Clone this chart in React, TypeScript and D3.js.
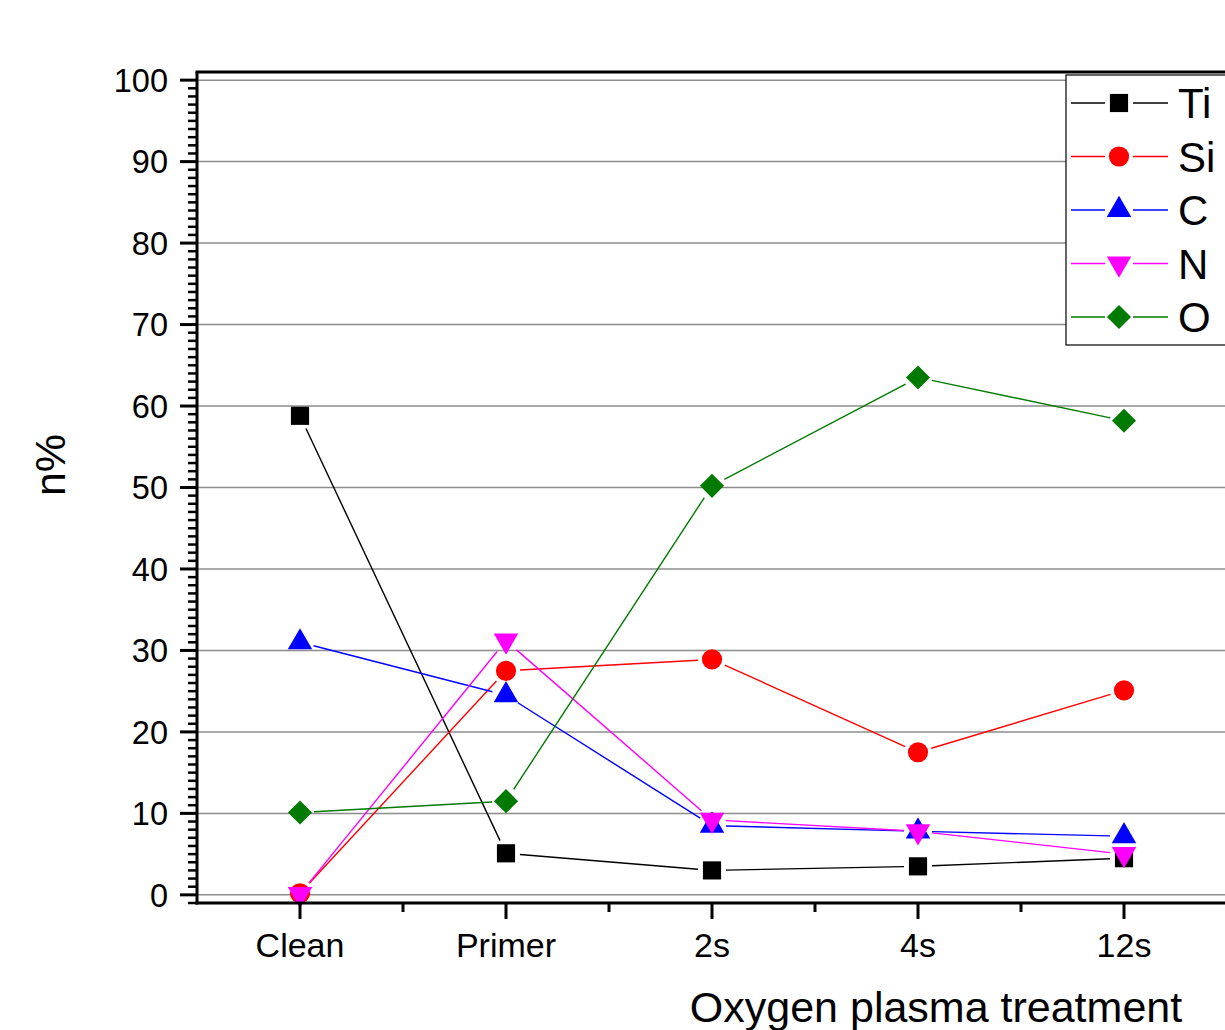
import React from "react";
import * as d3 from "d3";

const categories = ["Clean", "Primer", "2s", "4s", "12s"];
const seriesNames = ["Ti", "Si", "C", "N", "O"];
const seriesColors = ["#000000", "#ff0000", "#0000ff", "#ff00ff", "#007a00"];
const tiValues = [58.8, 5.1, 3.0, 3.5, 4.5];
const siValues = [0.2, 27.5, 28.9, 17.5, 25.1];
const cValues = [31.0, 24.5, 8.5, 7.8, 7.2];
const nValues = [0.1, 31.2, 9.2, 7.8, 5.0];
const oValues = [10.1, 11.5, 50.2, 63.5, 58.2];
const yTicks = [0, 10, 20, 30, 40, 50, 60, 70, 80, 90, 100];

const allValues = [tiValues, siValues, cValues, nValues, oValues];

const W = 1225;
const H = 1030;
const left = 197;
const right = 1227;
const top = 72;
const bottom = 903;

// marker paths, origin style
const markerPath = (i: number) => {
  if (i === 0) return d3.symbol(d3.symbolSquare, 330)()!;
  if (i === 1) return d3.symbol(d3.symbolCircle, 320)()!;
  if (i === 4) return d3.symbol(d3.symbolSquare, 290)()!;
  return d3.symbol(d3.symbolTriangle, 260)()!;
};
const markerRotate = (i: number) => (i === 3 ? 180 : i === 4 ? 45 : 0);

const App = () => {
  const x = d3.scaleLinear().domain([0.5, 5.5]).range([left, right]);
  const y = d3.scaleLinear().domain([-1, 101]).range([bottom, top]);
  const font = "'Liberation Sans', Arial, sans-serif";
  const gap = 14;

  // segments shortened so they stop short of the markers
  const segments = (vals: number[]) => {
    const out: number[][] = [];
    for (let k = 0; k < vals.length - 1; k++) {
      const x1 = x(k + 1), y1 = y(vals[k]);
      const x2 = x(k + 2), y2 = y(vals[k + 1]);
      const len = Math.hypot(x2 - x1, y2 - y1);
      if (len <= gap * 2) continue;
      const ux = (x2 - x1) / len, uy = (y2 - y1) / len;
      out.push([x1 + ux * gap, y1 + uy * gap, x2 - ux * gap, y2 - uy * gap]);
    }
    return out;
  };

  const minorY = d3.range(-1, 101, 1).filter(v => v % 10 !== 0);
  const minorX = d3.range(1.5, 5.5, 1);
  const legendX = 1066;
  const legendY = 75;
  const rowH = 53.5;

  return (
    <svg width={W} height={H} style={{ position: "absolute", left: 0, top: 0, background: "#fff" }}>
      <rect x={0} y={0} width={W} height={H} fill="#fff" />
      {/* grid */}
      {yTicks.map(t => (
        <line key={"g" + t} x1={left} x2={right} y1={y(t)} y2={y(t)} stroke="#8c8c8c" strokeWidth={1.5} />
      ))}

      {/* series lines */}
      {allValues.map((vals, i) => (
        <g key={"l" + i}>
          {segments(vals).map((s, k) => (
            <line key={k} x1={s[0]} y1={s[1]} x2={s[2]} y2={s[3]} stroke={seriesColors[i]} strokeWidth={1.4} />
          ))}
        </g>
      ))}
      {/* markers */}
      {allValues.map((vals, i) => (
        <g key={"m" + i}>
          {vals.map((v, k) => (
            <path
              key={k}
              d={markerPath(i)}
              transform={`translate(${x(k + 1)},${y(v)}) rotate(${markerRotate(i)})`}
              fill={seriesColors[i]}
            />
          ))}
        </g>
      ))}

      {/* frame */}
      <line x1={left - 1.5} x2={right} y1={top} y2={top} stroke="#000" strokeWidth={3} />
      <line x1={left} x2={left} y1={top} y2={bottom + 1.5} stroke="#000" strokeWidth={3} />
      <line x1={left - 1.5} x2={right} y1={bottom} y2={bottom} stroke="#000" strokeWidth={3} />

      {/* y ticks */}
      {yTicks.map(t => (
        <g key={"yt" + t}>
          <line x1={left - 17} x2={left} y1={y(t)} y2={y(t)} stroke="#000" strokeWidth={3} />
          <text x={168} y={y(t)} dy="0.36em" textAnchor="end" fontFamily={font} fontSize={32.5}>{t}</text>
        </g>
      ))}
      {minorY.map(t => (
        <line key={"ym" + t} x1={left - 9} x2={left} y1={y(t)} y2={y(t)} stroke="#000" strokeWidth={2.5} />
      ))}

      {/* x ticks */}
      {categories.map((c, k) => (
        <g key={"xt" + c}>
          <line x1={x(k + 1)} x2={x(k + 1)} y1={bottom} y2={bottom + 16} stroke="#000" strokeWidth={3} />
          <text x={x(k + 1)} y={957} textAnchor="middle" fontFamily={font} fontSize={34}>{c}</text>
        </g>
      ))}
      {minorX.map(v => (
        <line key={"xm" + v} x1={x(v)} x2={x(v)} y1={bottom} y2={bottom + 9} stroke="#000" strokeWidth={3} />
      ))}

      {/* axis titles */}
      <text x={936} y={1022} textAnchor="middle" fontFamily={font} fontSize={43}>Oxygen plasma treatment</text>
      <text transform={`translate(65,465) rotate(-90)`} textAnchor="middle" fontFamily={font} fontSize={43}>n%</text>

      {/* legend */}
      <rect x={legendX} y={legendY} width={200} height={270} fill="#fff" stroke="#000" strokeWidth={1.2} />
      {seriesNames.map((name, i) => {
        const ry = legendY + 28 + i * rowH;
        return (
          <g key={"lg" + name}>
            <line x1={1071} x2={1105} y1={ry} y2={ry} stroke={seriesColors[i]} strokeWidth={1.4} />
            <line x1={1133} x2={1168} y1={ry} y2={ry} stroke={seriesColors[i]} strokeWidth={1.4} />
            <path d={markerPath(i)} transform={`translate(1119,${ry}) rotate(${markerRotate(i)})`} fill={seriesColors[i]} />
            <text x={1178} y={ry} dy="0.36em" fontFamily={font} fontSize={42}>{name}</text>
          </g>
        );
      })}
    </svg>
  );
};

export default App;
